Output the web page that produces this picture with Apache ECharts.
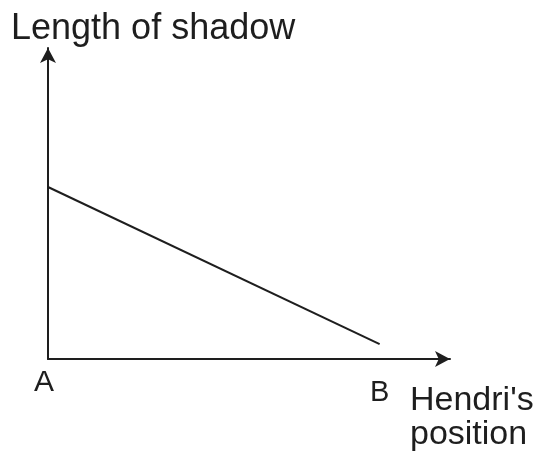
<!DOCTYPE html>
<html>
<head>
<meta charset="utf-8">
<script src="https://cdn.jsdelivr.net/npm/echarts@6/dist/echarts.min.js"></script>
<style>
  html, body { margin: 0; padding: 0; background: #fff; }
  #chart { width: 541px; height: 456px; }
</style>
</head>
<body>
<div id="chart"></div>
<script>
// Hendri walks from A to B, shadow gets shorter
const positions = [0, 8.25]
const shadowLengths = [5.53, 0.48]
const pointLabels = ['A', 'B']

const ink = '#1e1e1e'
const font = 'Liberation Sans, Arial, sans-serif'

const chart = echarts.init(document.getElementById('chart'))
chart.setOption({
  animation: false,
  title: {
    text: 'Length of shadow',
    left: 11,
    top: 11,
    padding: 0,
    textStyle: { color: ink, fontSize: 36, fontWeight: 'normal', fontFamily: font }
  },
  grid: { left: 48, right: 91, top: 48, bottom: 97 },
  xAxis: {
    type: 'value',
    min: 0,
    max: 10,
    splitLine: { show: false },
    axisTick: { show: false },
    axisLine: {
      lineStyle: { color: ink, width: 2 },
      symbol: ['none', 'arrow'],
      symbolSize: [12, 15]
    },
    axisLabel: {
      customValues: positions,
      margin: 9,
      formatter: (v) => {
        const i = positions.indexOf(v)
        return i === 0 ? '{a|' + pointLabels[0] + '}' : '{b|' + pointLabels[1] + '}'
      },
      rich: {
        a: { fontSize: 30, color: ink, fontFamily: font, padding: [0, 8, 0, 0] },
        b: { fontSize: 29, color: ink, fontFamily: font, padding: [10, 0, 0, 0] }
      }
    },
    name: "Hendri's\nposition",
    nameLocation: 'end',
    nameGap: -40,
    nameTextStyle: {
      color: ink,
      fontSize: 34,
      fontFamily: font,
      lineHeight: 34,
      align: 'left',
      verticalAlign: 'top',
      padding: [25, 0, 0, 0]
    }
  },
  yAxis: {
    type: 'value',
    min: 0,
    max: 10,
    splitLine: { show: false },
    axisTick: { show: false },
    axisLabel: { show: false },
    axisLine: {
      lineStyle: { color: ink, width: 2 },
      symbol: ['none', 'arrow'],
      symbolSize: [12, 15]
    }
  },
  series: [{
    type: 'line',
    data: positions.map((x, i) => [x, shadowLengths[i]]),
    showSymbol: false,
    lineStyle: { color: ink, width: 2 }
  }]
})
</script>
</body>
</html>
